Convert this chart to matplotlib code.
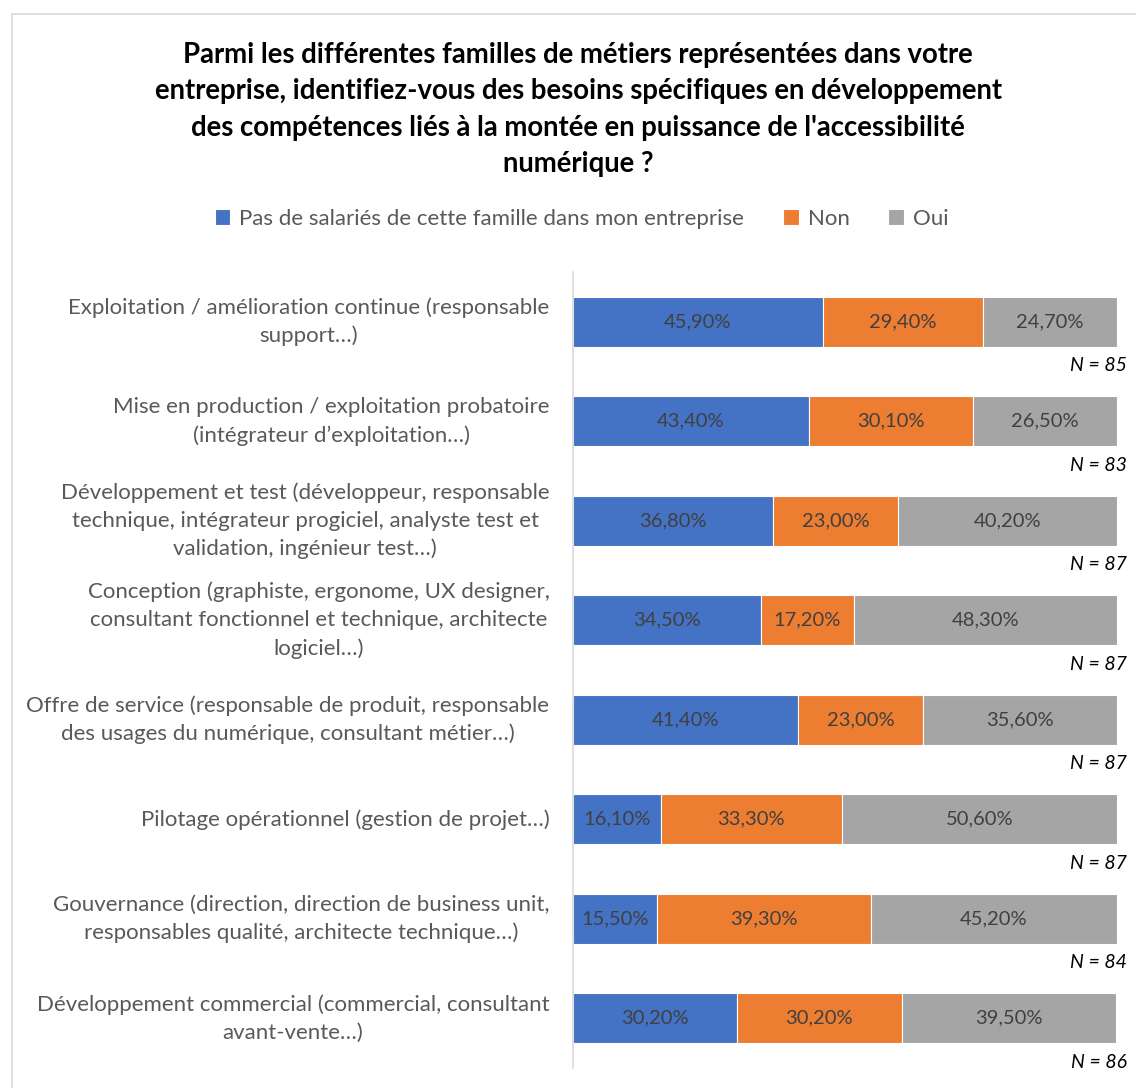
import matplotlib.pyplot as plt
from matplotlib.patches import Rectangle
import numpy as np

plt.rcParams['font.family'] = ['Lato', 'DejaVu Sans']

# Categories (top to bottom)
categories = [
    "Exploitation / amélioration continue (responsable\nsupport…)",
    "Mise en production / exploitation probatoire\n(intégrateur d’exploitation…)",
    "Développement et test (développeur, responsable\ntechnique, intégrateur progiciel, analyste test et\nvalidation, ingénieur test…)",
    "Conception (graphiste, ergonome, UX designer,\nconsultant fonctionnel et technique, architecte\nlogiciel…)",
    "Offre de service (responsable de produit, responsable\ndes usages du numérique, consultant métier…)",
    "Pilotage opérationnel (gestion de projet…)",
    "Gouvernance (direction, direction de business unit,\nresponsables qualité, architecte technique…)",
    "Développement commercial (commercial, consultant\navant-vente…)",
]
pas_salaries = [45.9, 43.4, 36.8, 34.5, 41.4, 16.1, 15.5, 30.2]
non = [29.4, 30.1, 23.0, 17.2, 23.0, 33.3, 39.3, 30.2]
oui = [24.7, 26.5, 40.2, 48.3, 35.6, 50.6, 45.2, 39.5]
n_resp = [85, 83, 87, 87, 87, 87, 84, 86]

series_names = ["Pas de salariés de cette famille dans mon entreprise", "Non", "Oui"]
colors = ["#4472C4", "#ED7D31", "#A5A5A5"]

title = ("Parmi les différentes familles de métiers représentées dans votre\n"
         "entreprise, identifiez-vous des besoins spécifiques en développement\n"
         "des compétences liés à la montée en puissance de l'accessibilité\n"
         "numérique ?")

fig = plt.figure(figsize=(11.36, 10.88), dpi=100)
ax = fig.add_axes([573 / 1136, 1 - 1068 / 1088, (1117 - 573) / 1136, (1068 - 272) / 1088])

# outer frame
fig.patches.append(Rectangle((12 / 1136, -0.01), 1.0, 1 - 14 / 1088 + 0.01,
                             transform=fig.transFigure, fill=False,
                             edgecolor="#D9D9D9", linewidth=1.2))

y = np.arange(len(categories))
left = np.zeros(len(categories))
for vals, name, col in zip([pas_salaries, non, oui], series_names, colors):
    vals = np.array(vals)
    ax.barh(y, vals, left=left, height=0.5, color=col, label=name,
            edgecolor="white", linewidth=0.8)
    for yi, l, v in zip(y, left, vals):
        ax.text(l + v / 2, yi, f"{v:.2f}%".replace(".", ","), ha="center",
                va="center", fontsize=14.5, color="#404040")
    left += vals

for yi, nv in zip(y, n_resp):
    ax.text(101.8, yi + 0.44, f"N = {nv}", ha="right", va="center",
            fontsize=14, style="italic", color="black", clip_on=False)

ax.set_xlim(0, 100)
ax.set_ylim(len(categories) - 0.5, -0.5)
ax.set_yticks(y)
ax.set_yticklabels(categories, fontsize=16, color="#595959",
                   multialignment="center", linespacing=1.48)
for lab in ax.get_yticklabels():
    lab.set_va("center")
ax.tick_params(axis="y", length=0, pad=17)
ax.set_xticks([])
for s in ["top", "right", "bottom"]:
    ax.spines[s].set_visible(False)
ax.spines["left"].set_color("#D9D9D9")
ax.spines["left"].set_linewidth(1.2)

fig.text(0.509, 1 - 42 / 1088, title, ha="center", va="top", fontsize=19.8,
         fontweight="bold", color="black", linespacing=1.49)

fig.legend(loc="center", bbox_to_anchor=(0.512, 1 - 219 / 1088), ncol=3,
           frameon=False, fontsize=16, handlelength=0.7, handleheight=0.7,
           handletextpad=0.4, columnspacing=1.75, labelcolor="#595959")

fig.savefig("out.png", dpi=100, facecolor="white")
